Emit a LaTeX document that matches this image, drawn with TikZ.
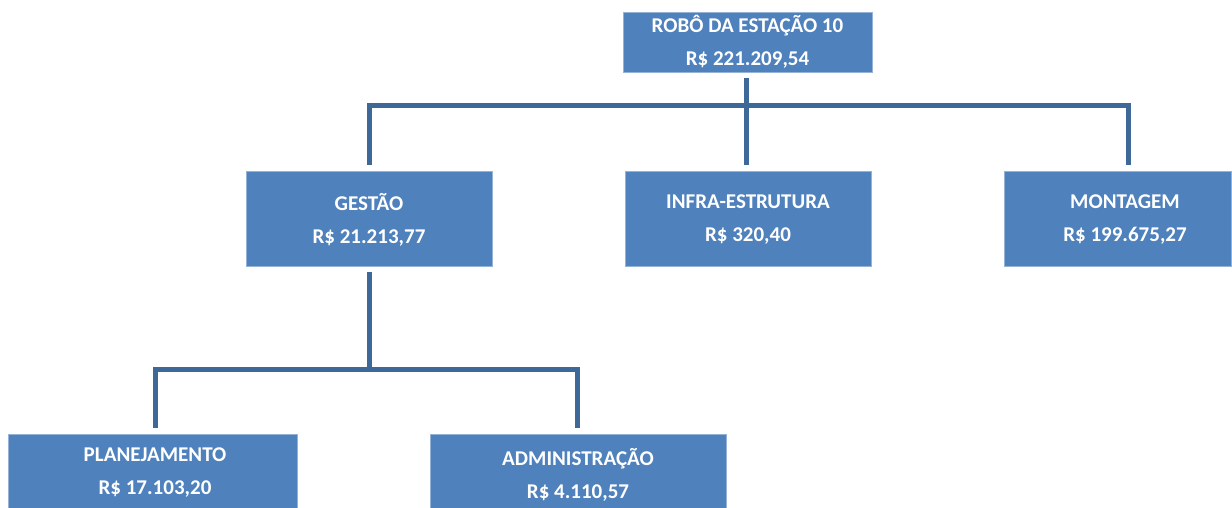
\documentclass[tikz,border=0pt]{standalone}
\usepackage{fontspec}
\setmainfont{Carlito}
\definecolor{boxblue}{HTML}{4F81BD}
\definecolor{lineblue}{HTML}{3D6898}
\begin{document}
\begin{tikzpicture}[x=1pt,y=-1pt,
  box/.style={fill=boxblue,draw=boxblue!60!white,line width=0.6pt,text=white,font=\bfseries\fontsize{21}{33}\selectfont,align=center,inner sep=0pt},
  conn/.style={draw=lineblue,line width=5pt}]
\useasboundingbox (0,0) rectangle (1232,507);
\path[box] (623,12) rectangle (872,72);
\node[box,fill=none,draw=none] (root) at (747.5,42) {ROBÔ DA ESTAÇÃO 10\\R\$ 221.209,54};
\path[box] (246,171) rectangle (492,266);
\node[box,fill=none,draw=none] (gestao) at (369,219.5) {GESTÃO\\R\$ 21.213,77};
\path[box] (625,171) rectangle (871,266);
\node[box,fill=none,draw=none] (infra) at (748,219.5) {INFRA-ESTRUTURA\\R\$ 320,40};
\path[box] (1004,171) rectangle (1231,266);
\node[box,fill=none,draw=none] (mont) at (1125,219.5) {MONTAGEM\\R\$ 199.675,27};
\path[box] (8,434) rectangle (297,510);
\node[box,fill=none,draw=none] (plan) at (155,472.5) {PLANEJAMENTO\\R\$ 17.103,20};
\path[box] (430,434) rectangle (726,510);
\node[box,fill=none,draw=none] (adm) at (578,475) {ADMINISTRAÇÃO\\R\$ 4.110,57};
\coordinate (r0) at (746,78);
\coordinate (g0) at (369,272);
\draw[conn] (r0) -- (746,165);
\draw[conn] (369,165) -- (369,105) -- (1128,105) -- (1128,165);
\draw[conn] (g0) -- (369,369);
\draw[conn] (155,428) -- (155,369) -- (577,369) -- (577,428);
\end{tikzpicture}
\end{document}
